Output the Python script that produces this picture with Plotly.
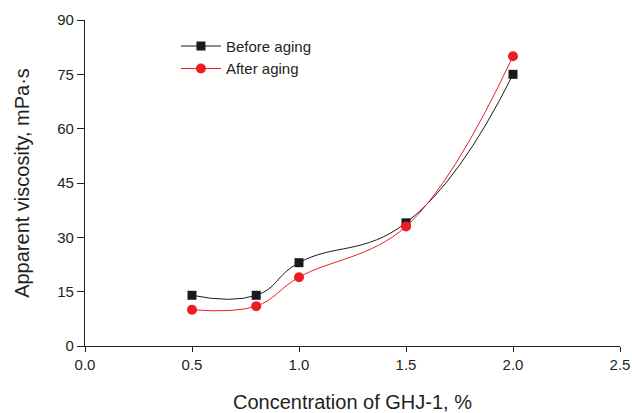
import plotly.graph_objects as go

conc = [0.5, 0.8, 1.0, 1.5, 2.0]
before_aging = [14, 14, 23, 34, 75]
after_aging = [10, 11, 19, 33, 80]

x_ticks = [0.0, 0.5, 1.0, 1.5, 2.0, 2.5]
x_tick_labels = ["0.0", "0.5", "1.0", "1.5", "2.0", "2.5"]
y_ticks = [0, 15, 30, 45, 60, 75, 90]

fig = go.Figure()
fig.add_trace(go.Scatter(
    x=conc, y=before_aging, name="Before aging", mode="lines+markers",
    line=dict(color="#1a1a1a", width=1, shape="spline", smoothing=1.3),
    marker=dict(symbol="square", size=9, color="#1a1a1a"),
))
fig.add_trace(go.Scatter(
    x=conc, y=after_aging, name="After aging", mode="lines+markers",
    line=dict(color="#ee1c24", width=1, shape="spline", smoothing=1.1),
    marker=dict(symbol="circle", size=10, color="#ee1c24"),
))

font = "Liberation Sans, Arial, sans-serif"
fig.update_layout(
    width=632, height=413,
    margin=dict(l=85, r=12, t=20, b=67),
    plot_bgcolor="white", paper_bgcolor="white",
    font=dict(family=font, color="#231f20", size=15),
    showlegend=True,
    legend=dict(x=0.17, y=0.97, xanchor="left", yanchor="top",
                bgcolor="rgba(0,0,0,0)", font=dict(size=15, family=font),
                tracegroupgap=0, itemwidth=40),
    xaxis=dict(range=[0, 2.5], tickvals=x_ticks, ticktext=x_tick_labels,
               showgrid=False, zeroline=False, showline=True, automargin=False,
               linecolor="#231f20", linewidth=1.2, ticks="outside",
               ticklen=5, tickcolor="#231f20", tickfont=dict(size=15),
               title=dict(text="Concentration of GHJ-1, %", font=dict(size=20), standoff=23)),
    yaxis=dict(range=[0, 90], tickvals=y_ticks,
               showgrid=False, zeroline=False, showline=True, automargin=False,
               linecolor="#231f20", linewidth=1.2, ticks="outside",
               ticklen=7, tickcolor="#231f20", tickfont=dict(size=15),
               title=dict(text="Apparent viscosity, mPa·s", font=dict(size=20), standoff=22)),
)

fig.write_html("out.html")
